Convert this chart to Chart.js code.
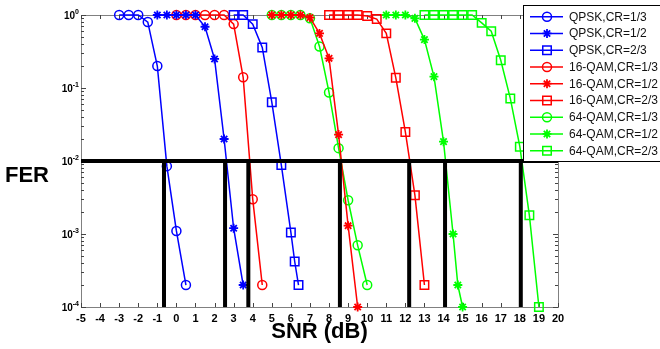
<!DOCTYPE html>
<html>
<head>
<meta charset="utf-8">
<script src="https://cdn.jsdelivr.net/npm/chart.js@4.4.1/dist/chart.umd.min.js"></script>
<style>
  body { margin: 0; background: #fff; }
  canvas { display: block; }
</style>
</head>
<body>
<canvas id="ferChart" width="660" height="349"></canvas>
<script>
// values (SNR in dB, FER)
const qpsk13Snr = [-3, -2.5, -2, -1.5, -1, -0.5, 0, 0.5];
const qpsk13Fer = [1, 1, 1, 0.8, 0.2, 0.0085, 0.0011, 0.0002];
const qpsk12Snr = [-1, -0.5, 0, 0.5, 1, 1.5, 2, 2.5, 3, 3.5];
const qpsk12Fer = [1, 1, 1, 1, 1, 0.69, 0.25, 0.02, 0.0012, 0.0002];
const qpsk23Snr = [3, 3.5, 4, 4.5, 5, 5.5, 6, 6.2, 6.4];
const qpsk23Fer = [1, 1, 0.75, 0.36, 0.064, 0.0088, 0.00105, 0.00042, 0.0002];

const qam16_13Snr = [0, 0.5, 1, 1.5, 2, 2.5, 3, 3.5, 4, 4.5];
const qam16_13Fer = [1, 1, 1, 1, 1, 1, 0.75, 0.14, 0.003, 0.0002];
const qam16_12Snr = [5, 5.5, 6, 6.5, 7, 7.5, 8, 8.5, 9, 9.5];
const qam16_12Fer = [1, 1, 1, 1, 0.92, 0.56, 0.255, 0.023, 0.0013, 0.0001];
const qam16_23Snr = [8, 8.5, 9, 9.5, 10, 10.5, 11, 11.5, 12, 12.5, 13];
const qam16_23Fer = [1, 1, 1, 1, 0.97, 0.88, 0.56, 0.138, 0.025, 0.0034, 0.0002];

const qam64_13Snr = [5, 5.5, 6, 6.5, 7, 7.5, 8, 8.5, 9, 9.5, 10];
const qam64_13Fer = [1, 1, 1, 1, 0.9, 0.37, 0.087, 0.015, 0.0029, 0.0007, 0.0002];
const qam64_12Snr = [11, 11.5, 12, 12.5, 13, 13.5, 14, 14.5, 14.75, 15];
const qam64_12Fer = [1, 1, 1, 0.9, 0.46, 0.143, 0.0184, 0.001, 0.0002, 0.0001];
const qam64_23Snr = [13, 13.5, 14, 14.5, 15, 15.5, 16, 16.5, 17, 17.5, 18, 18.5, 19];
const qam64_23Fer = [1, 1, 1, 1, 1, 1, 0.78, 0.6, 0.24, 0.072, 0.0157, 0.0018, 0.0001];

// FER = 1e-2 target and the SNR where each curve crosses it
const ferTarget = 0.01;
const crossSnr = [-0.65, 2.55, 3.77, 8.57, 12.2, 14.08, 18.05];

const xMin = -5, xMax = 20;
const yTicks = [1e-4, 1e-3, 1e-2, 1e-1, 1];
const yTickExp = ['-4', '-3', '-2', '-1', '0'];

const FONT = '"Liberation Sans", Arial, sans-serif';

function pts(xs, ys) {
  return xs.map((v, i) => ({ x: v, y: ys[i] }));
}

function curve(label, xs, ys, color, style) {
  const r = style === 'rect' ? 6 : (style === 'star' ? 4.5 : 4.5);
  return {
    label: label,
    data: pts(xs, ys),
    borderColor: color,
    backgroundColor: color,
    pointBackgroundColor: 'rgba(0,0,0,0)',
    pointBorderColor: color,
    pointStyle: style,
    pointRadius: r,
    pointBorderWidth: style === 'star' ? 1.8 : 1.5,
    borderWidth: 1.5,
    tension: 0,
    clip: false,
    order: 1
  };
}

const blackLines = [{
  data: [{ x: xMin, y: ferTarget }, { x: xMax, y: ferTarget }],
  borderColor: '#000', borderWidth: 4, pointRadius: 0, order: 0, clip: false
}];
crossSnr.forEach(s => {
  blackLines.push({
    data: [{ x: s, y: yTicks[0] }, { x: s, y: ferTarget }],
    borderColor: '#000', borderWidth: 4, pointRadius: 0, order: 0, clip: false
  });
});

// frame, inward ticks, y labels with superscripts and the FER label
const frameTicks = {
  id: 'frameTicks',
  beforeDatasetsDraw(chart) {
    const { ctx, chartArea: a, scales: { x, y } } = chart;
    ctx.save();
    ctx.strokeStyle = '#808080';
    ctx.lineWidth = 1;
    ctx.strokeRect(a.left + 0.5, a.top + 0.5, a.right - a.left, a.bottom - a.top);
    ctx.strokeStyle = '#444';
    ctx.beginPath();
    for (let v = xMin; v <= xMax; v++) {
      const px = Math.round(x.getPixelForValue(v)) + 0.5;
      ctx.moveTo(px, a.bottom); ctx.lineTo(px, a.bottom - 4);
      ctx.moveTo(px, a.top); ctx.lineTo(px, a.top + 4);
    }
    yTicks.forEach(dec => {
      for (let m = 1; m < 10; m++) {
        const v = dec * m;
        if (v > 1.0001) break;
        const py = Math.round(y.getPixelForValue(v)) + 0.5;
        const len = m === 1 ? 5 : 3;
        ctx.moveTo(a.left, py); ctx.lineTo(a.left + len, py);
        ctx.moveTo(a.right, py); ctx.lineTo(a.right - len, py);
      }
    });
    ctx.stroke();

    ctx.fillStyle = '#000';
    ctx.textBaseline = 'alphabetic';
    yTicks.forEach((v, i) => {
      const py = y.getPixelForValue(v);
      ctx.font = 'bold 7px ' + FONT;
      const ew = ctx.measureText(yTickExp[i]).width;
      ctx.textAlign = 'left';
      ctx.fillText(yTickExp[i], a.left - 2 - ew, py - 1);
      ctx.font = 'bold 10px ' + FONT;
      ctx.textAlign = 'right';
      ctx.fillText('10', a.left - 2 - ew, py + 4);
    });

    ctx.textAlign = 'left';
    ctx.font = 'bold 22px ' + FONT;
    ctx.fillText('FER', 5, 182);
    ctx.restore();
  }
};

// boxed legend at the top right
const legendBox = {
  id: 'legendBox',
  afterDraw(chart) {
    const ctx = chart.ctx;
    const items = chart.data.datasets.filter(d => d.label);
    ctx.save();
    ctx.fillStyle = '#fff';
    ctx.fillRect(523.5, 5.5, 140, 156);
    ctx.strokeStyle = '#000';
    ctx.lineWidth = 1;
    ctx.strokeRect(523.5, 5.5, 140, 156);
    ctx.font = '12px ' + FONT;
    ctx.textBaseline = 'middle';
    items.forEach((d, i) => {
      const y = 16.7 + i * 16.75;
      ctx.strokeStyle = d.borderColor;
      ctx.lineWidth = 1.5;
      ctx.beginPath();
      ctx.moveTo(530, y);
      ctx.lineTo(563, y);
      ctx.stroke();
      ctx.fillStyle = 'rgba(0,0,0,0)';
      ctx.lineWidth = d.pointBorderWidth;
      Chart.helpers.drawPoint(ctx, {
        pointStyle: d.pointStyle, radius: d.pointRadius,
        borderWidth: d.pointBorderWidth, rotation: 0
      }, 547, y);
      ctx.fillStyle = '#111';
      ctx.fillText(d.label, 569, y + 0.5);
    });
    ctx.restore();
  }
};

const ctx = document.getElementById('ferChart').getContext('2d');
const ferChart = new Chart(ctx, {
  type: 'line',
  data: {
    datasets: [
      curve('QPSK,CR=1/3', qpsk13Snr, qpsk13Fer, '#0000ff', 'circle'),
      curve('QPSK,CR=1/2', qpsk12Snr, qpsk12Fer, '#0000ff', 'star'),
      curve('QPSK,CR=2/3', qpsk23Snr, qpsk23Fer, '#0000ff', 'rect'),
      curve('16-QAM,CR=1/3', qam16_13Snr, qam16_13Fer, '#ff0000', 'circle'),
      curve('16-QAM,CR=1/2', qam16_12Snr, qam16_12Fer, '#ff0000', 'star'),
      curve('16-QAM,CR=2/3', qam16_23Snr, qam16_23Fer, '#ff0000', 'rect'),
      curve('64-QAM,CR=1/3', qam64_13Snr, qam64_13Fer, '#00ff00', 'circle'),
      curve('64-QAM,CR=1/2', qam64_12Snr, qam64_12Fer, '#00ff00', 'star'),
      curve('64-QAM,CR=2/3', qam64_23Snr, qam64_23Fer, '#00ff00', 'rect')
    ].concat(blackLines)
  },
  options: {
    responsive: false,
    animation: false,
    devicePixelRatio: 1,
    layout: { padding: { top: 15, right: 102, left: 0, bottom: 0 } },
    plugins: {
      legend: { display: false },
      tooltip: { enabled: false }
    },
    scales: {
      x: {
        type: 'linear',
        min: xMin,
        max: xMax,
        afterFit: s => { s.height = 42; },
        ticks: {
          stepSize: 1,
          autoSkip: false,
          maxRotation: 0,
          padding: 5,
          color: '#000',
          font: { family: FONT, size: 11, weight: 'bold' }
        },
        grid: { display: false, drawTicks: false },
        border: { display: false },
        title: {
          display: true,
          text: 'SNR (dB)',
          color: '#000',
          font: { family: FONT, size: 22, weight: 'bold' },
          padding: { top: 0, bottom: 4 }
        }
      },
      y: {
        type: 'logarithmic',
        min: yTicks[0],
        max: yTicks[yTicks.length - 1],
        afterFit: s => { s.width = 81; },
        afterBuildTicks: s => { s.ticks = yTicks.map(v => ({ value: v })); },
        ticks: { display: false },
        grid: { display: false, drawTicks: false },
        border: { display: false }
      }
    }
  },
  plugins: [frameTicks, legendBox]
});
</script>
</body>
</html>
